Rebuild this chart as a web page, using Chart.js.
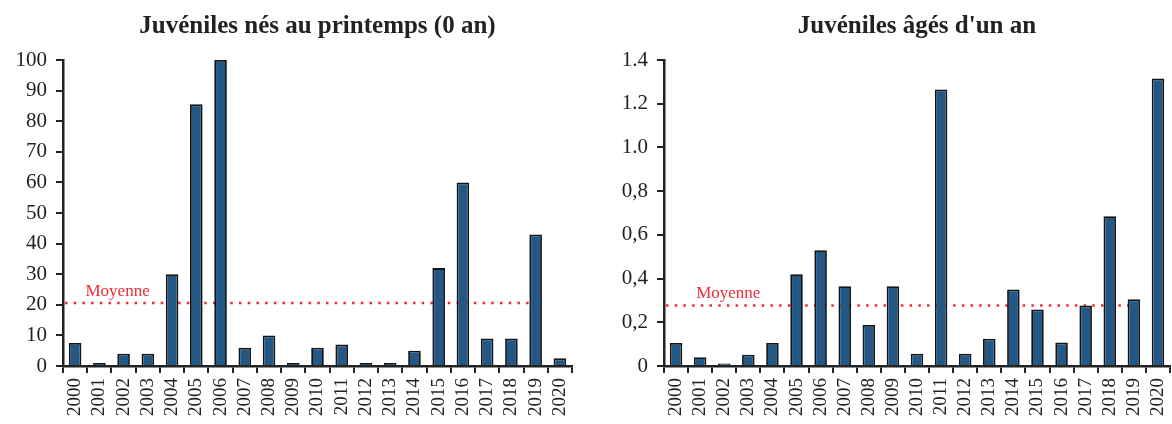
<!DOCTYPE html>
<html>
<head>
<meta charset="utf-8">
<script src="https://cdn.jsdelivr.net/npm/chart.js@4.4.1/dist/chart.umd.min.js"></script>
<style>
  body { margin: 0; background: #fff; }
  .wrap { position: absolute; top: 0; width: 586px; height: 424px; }
  #w0 { left: 0; }
  #w1 { left: 586px; }
</style>
</head>
<body>
<div class="wrap" id="w0"><canvas id="cv0" width="586" height="424"></canvas></div>
<div class="wrap" id="w1"><canvas id="cv1" width="586" height="424"></canvas></div>
<script>
// data
const years = ["2000","2001","2002","2003","2004","2005","2006","2007","2008","2009","2010",
               "2011","2012","2013","2014","2015","2016","2017","2018","2019","2020"];
const juv0 = [7.5, 1, 4, 4, 30, 85.5, 100, 6, 10, 1, 6, 7, 1, 1, 5, 32, 60, 9, 9, 43, 2.5];
const juv1 = [0.105, 0.04, 0.012, 0.052, 0.105, 0.42, 0.53, 0.365, 0.188, 0.365, 0.056,
              1.265, 0.056, 0.125, 0.35, 0.258, 0.107, 0.277, 0.685, 0.305, 1.315];
const mean0 = 20.6;
const mean1 = 0.277;
const meanEnd = "2019";
const meanLabelAt = "2002";
const title0 = "Juvéniles nés au printemps (0 an)";
const title1 = "Juvéniles âgés d'un an";
const yLabels1 = ["0", "0,2", "0,4", "0,6", "0,8", "1.0", "1.2", "1.4"];

const SERIF = "'Liberation Serif', 'DejaVu Serif', serif";
const INK = "#222";

// dotted average line + "Moyenne" label, drawn behind the bars
const meanLinePlugin = {
    id: "meanLine",
    beforeDatasetsDraw(chart, args, opts) {
        const { ctx, chartArea, scales: { x, y } } = chart;
        const py = y.getPixelForValue(opts.value);
        const xEnd = x.getPixelForValue(years.indexOf(opts.end));
        ctx.save();
        ctx.strokeStyle = "#ee2b36";
        ctx.lineWidth = 2.5;
        ctx.setLineDash([2.5, 6.2]);
        ctx.beginPath();
        ctx.moveTo(chartArea.left + 2, py);
        ctx.lineTo(xEnd, py);
        ctx.stroke();
        ctx.setLineDash([]);
        ctx.fillStyle = "#ee2b36";
        ctx.font = "17px " + SERIF;
        ctx.textAlign = "center";
        ctx.textBaseline = "bottom";
        ctx.fillText("Moyenne", x.getPixelForValue(years.indexOf(opts.labelAt)) + opts.labelShift, py - 3);
        ctx.restore();
    }
};

const makeChart = (id, title, values, mean, yMax, step, yWidth, rightPad, labelShift, tickCb) => {
    const ctx = document.getElementById(id).getContext("2d");
    return new Chart(ctx, {
        type: "bar",
        data: {
            labels: years,
            datasets: [{
                data: values,
                backgroundColor: "#225883",
                borderColor: "#141414",
                borderWidth: 1.8,
                barPercentage: 0.52,
                categoryPercentage: 1
            }]
        },
        options: {
            responsive: false,
            animation: false,
            layout: { padding: { left: 0, right: rightPad, top: 0, bottom: 0 } },
            plugins: {
                legend: { display: false },
                tooltip: { enabled: false },
                title: {
                    display: true,
                    text: title,
                    fullSize: false,
                    color: INK,
                    font: { family: SERIF, size: 25, weight: "bold" },
                    padding: { top: 12, bottom: 18 }
                },
                meanLine: { value: mean, end: meanEnd, labelAt: meanLabelAt, labelShift: labelShift }
            },
            scales: {
                x: {
                    grid: { offset: true, drawOnChartArea: false, color: INK, lineWidth: 2, tickLength: 7 },
                    border: { color: INK, width: 2.5 },
                    ticks: { autoSkip: false, minRotation: 90, maxRotation: 90, padding: 5,
                             color: INK, font: { family: SERIF, size: 19 } },
                    afterFit: (s) => { s.height = 58; s.paddingLeft = 0; s.paddingRight = 0; }
                },
                y: {
                    min: 0,
                    max: yMax,
                    grid: { drawOnChartArea: false, color: INK, lineWidth: 2, tickLength: 7 },
                    border: { color: INK, width: 2.5 },
                    ticks: { stepSize: step, padding: 9, color: INK,
                             font: { family: SERIF, size: 21 }, callback: tickCb },
                    afterFit: (s) => { s.width = yWidth; }
                }
            }
        },
        plugins: [meanLinePlugin]
    });
};

makeChart("cv0", title0, juv0, mean0, 100, 10, 63, 14, -6, (v) => v);
makeChart("cv1", title1, juv1, mean1, 1.4, 0.2, 78, 2, 4, (v, i) => yLabels1[i]);
</script>
</body>
</html>
